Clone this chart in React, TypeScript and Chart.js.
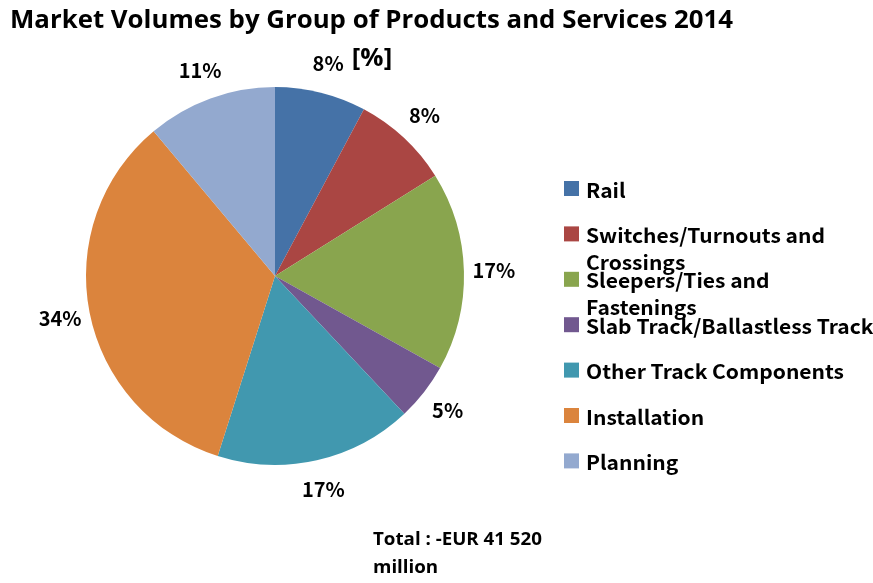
import React, { useEffect, useRef } from 'react';
import { Chart, registerables } from 'chart.js';

Chart.register(...registerables);

const categories = [
  'Rail',
  'Switches/Turnouts and Crossings',
  'Sleepers/Ties and Fastenings',
  'Slab Track/Ballastless Track',
  'Other Track Components',
  'Installation',
  'Planning',
];
const shares = [7.8, 8.3, 17.0, 4.9, 16.9, 34.0, 11.1];
const percentLabels = ['8%', '8%', '17%', '5%', '17%', '34%', '11%'];
const legendLines = [
  ['Rail'],
  ['Switches/Turnouts and', 'Crossings'],
  ['Sleepers/Ties and', 'Fastenings'],
  ['Slab Track/Ballastless Track'],
  ['Other Track Components'],
  ['Installation'],
  ['Planning'],
];
const colors = ['#4572A7', '#AA4643', '#89A54E', '#71588F', '#4198AF', '#DB843D', '#93A9CF'];
const titleText = 'Market Volumes by Group of Products and Services 2014';
const unitText = '[%]';
const totalLines = ['Total : -EUR 41 520', 'million'];

const W = 873;
const H = 583;

function drawScaled(ctx: CanvasRenderingContext2D, text: string, x: number, y: number, sx: number) {
  ctx.save();
  ctx.translate(x, y);
  ctx.scale(sx, 1);
  ctx.fillText(text, 0, 0);
  ctx.restore();
}

const overlayPlugin = {
  id: 'overlay',
  afterDraw(chart: any) {
    const ctx: CanvasRenderingContext2D = chart.ctx;
    ctx.save();
    ctx.fillStyle = '#000000';

    // Title
    ctx.font = 'bold 25px "Open Sans"';
    ctx.textAlign = 'left';
    ctx.textBaseline = 'alphabetic';
    const tw = ctx.measureText(titleText).width;
    const tsx = 723 / tw;
    drawScaled(ctx, titleText, 10, 28, tsx);
    const uw = ctx.measureText(unitText).width * tsx;
    drawScaled(ctx, unitText, 372 - uw / 2, 66, tsx);

    // Percent labels
    const meta = chart.getDatasetMeta(0);
    ctx.font = 'bold 20px "Noto Sans CJK KR"';
    ctx.textAlign = 'center';
    ctx.textBaseline = 'middle';
    meta.data.forEach((arc: any, i: number) => {
      const p = arc.getProps(['x', 'y', 'startAngle', 'endAngle', 'outerRadius'], true);
      const mid = (p.startAngle + p.endAngle) / 2;
      const r = p.outerRadius + 30;
      ctx.fillText(percentLabels[i], p.x + Math.cos(mid) * r, p.y + Math.sin(mid) * r);
    });

    // Legend
    ctx.font = 'bold 20px "Noto Sans CJK KR"';
    ctx.textAlign = 'left';
    ctx.textBaseline = 'middle';
    const lsx = 258 / ctx.measureText('Other Track Components').width;
    categories.forEach((_c, i) => {
      const cy = 188 + i * 45.4;
      ctx.fillStyle = colors[i];
      ctx.fillRect(564, cy - 7, 15, 15);
      ctx.fillStyle = '#000000';
      legendLines[i].forEach((line, j) => {
        drawScaled(ctx, line, 586, cy + 2 + j * 27, lsx);
      });
    });

    // Total
    ctx.font = 'bold 18px "Open Sans"';
    ctx.textAlign = 'left';
    ctx.textBaseline = 'alphabetic';
    const ssx = 169 / ctx.measureText(totalLines[0]).width;
    drawScaled(ctx, totalLines[0], 373, 545, ssx);
    drawScaled(ctx, totalLines[1], 373, 573, ssx);

    ctx.restore();
  },
};

export default function App() {
  const ref = useRef<HTMLCanvasElement | null>(null);

  useEffect(() => {
    document.body.style.margin = '0';
    const canvas = ref.current;
    if (!canvas) return;
    const chart = new Chart(canvas, {
      type: 'pie',
      data: {
        labels: categories,
        datasets: [
          {
            data: shares,
            backgroundColor: colors,
            borderWidth: 0,
          },
        ],
      },
      options: {
        responsive: false,
        maintainAspectRatio: false,
        devicePixelRatio: 1,
        animation: false,
        layout: { padding: { left: 86, top: 87, right: 409, bottom: 118 } },
        plugins: {
          legend: { display: false },
          title: { display: false },
          tooltip: { enabled: false },
        },
      },
      plugins: [overlayPlugin],
    } as any);
    return () => chart.destroy();
  }, []);

  return (
    <div style={{ width: W, height: H, background: '#ffffff' }}>
      <canvas ref={ref} width={W} height={H} style={{ display: 'block', width: W, height: H }} />
    </div>
  );
}
